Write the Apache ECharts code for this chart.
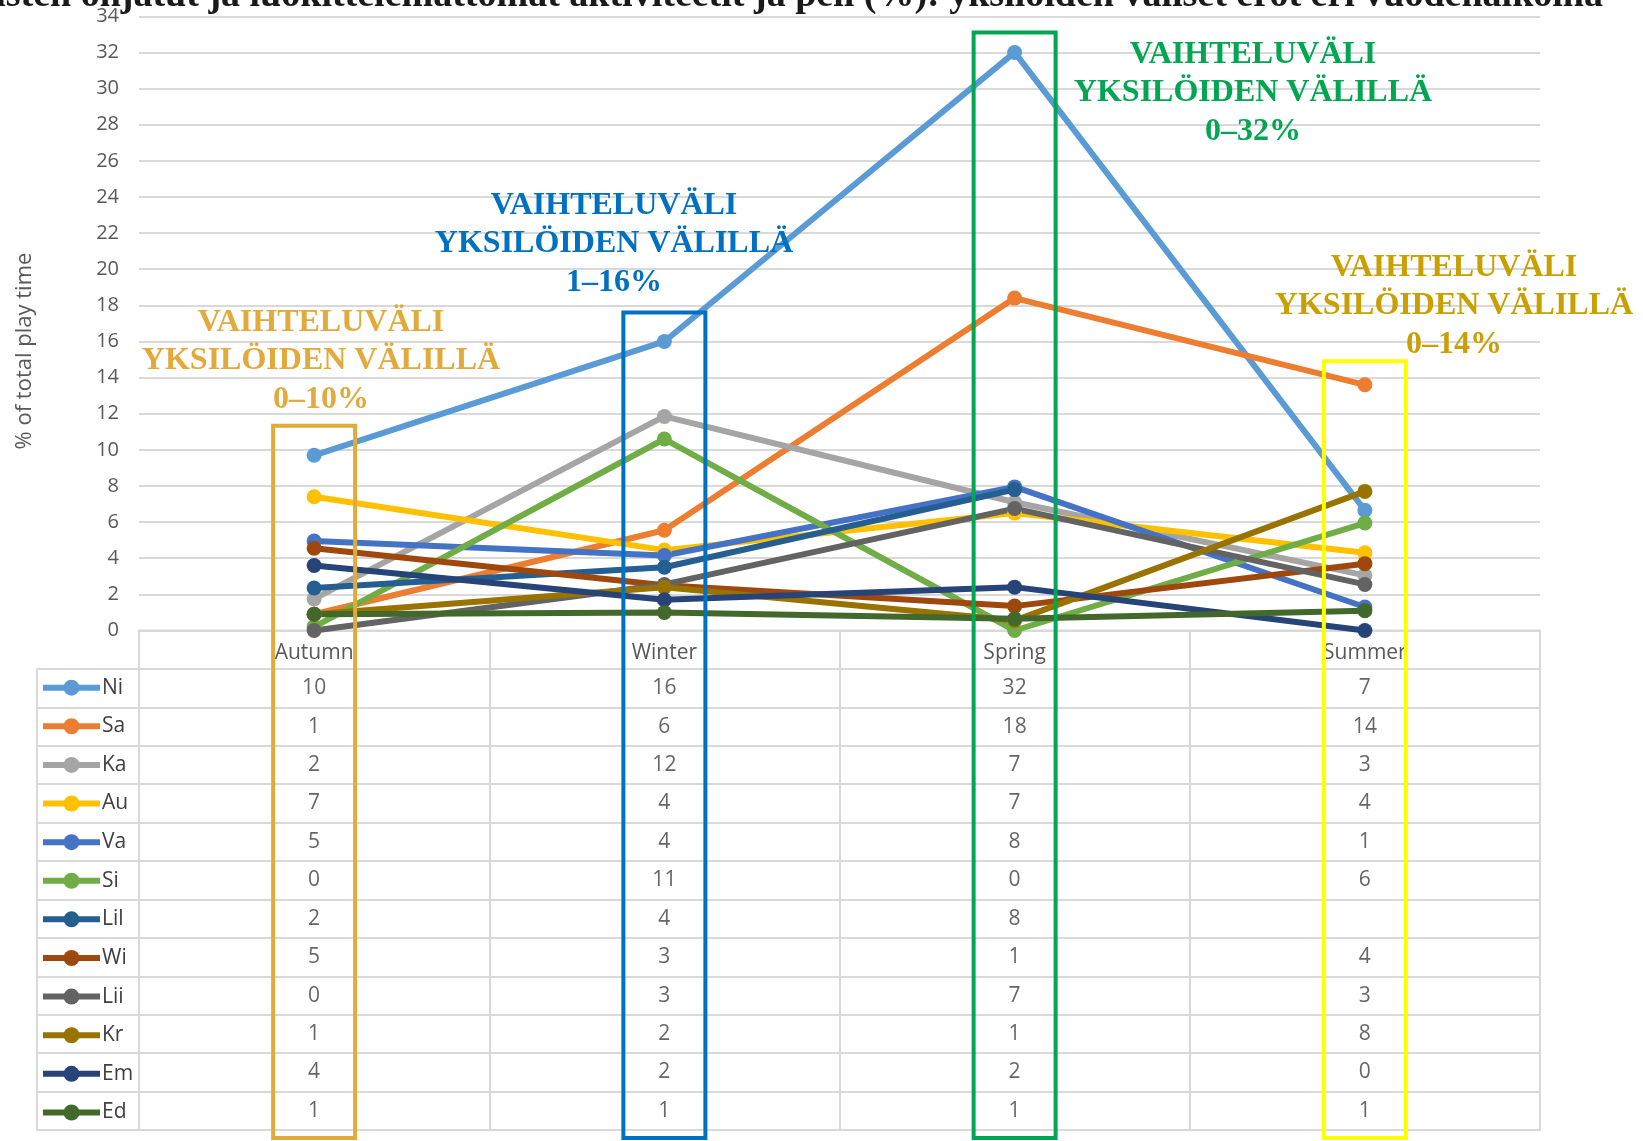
<!DOCTYPE html>
<html><head><meta charset="utf-8">
<script src="https://cdn.jsdelivr.net/npm/echarts@6/dist/echarts.min.js"></script>
<style>html,body{margin:0;padding:0;background:#fff}#c{width:1643px;height:1141px}</style>
</head><body><div id="c"></div>
<script>
// ---- data ----
const seasons = ['Autumn', 'Winter', 'Spring', 'Summer'];
const names = ['Ni', 'Sa', 'Ka', 'Au', 'Va', 'Si', 'Lil', 'Wi', 'Lii', 'Kr', 'Em', 'Ed'];
const colors = ['#5B9BD5', '#ED7D31', '#A5A5A5', '#FFC000', '#4472C4', '#70AD47',
                '#255E91', '#9E480E', '#636363', '#997300', '#264478', '#43682B'];
const Ni  = [9.7, 16.0, 32.0, 6.65];
const Sa  = [0.9, 5.55, 18.4, 13.6];
const Ka  = [1.75, 11.85, 7.1, 3.05];
const Au  = [7.4, 4.45, 6.5, 4.3];
const Va  = [4.95, 4.15, 7.95, 1.3];
const Si  = [0.2, 10.6, 0, 5.95];
const Lil = [2.35, 3.5, 7.8, null];
const Wi  = [4.55, 2.5, 1.35, 3.7];
const Lii = [0, 2.55, 6.75, 2.55];
const Kr  = [0.9, 2.4, 0.55, 7.7];
const Em  = [3.6, 1.7, 2.4, 0];
const Ed  = [0.9, 1.0, 0.65, 1.1];
const seriesValues = [Ni, Sa, Ka, Au, Va, Si, Lil, Wi, Lii, Kr, Em, Ed];
const yMin = 0, yMax = 34, yInterval = 2;
const axisTitle = '% of total play time';
const noteLines = ['VAIHTELUVÄLI', 'YKSILÖIDEN VÄLILLÄ'];
const noteColors = ['#E2A93B', '#0070C0', '#00A651', '#C9A000'];
const boxColors = ['#E2A93B', '#0070C0', '#00A651', '#FFFF00'];
const boxTopValues = [11.33, 17.6, 33.1, 14.9];
const titleText = 'Kuva 3. Lasten ohjatut ja luokittelemattomat aktiviteetit ja peli (%): yksilöiden väliset erot eri vuodenaikoina';

// ---- layout ----
const W = 1643, H = 1141;
const gLeft = 139, gRight = 103, gTop = 16.3, gBottom0 = 630.5;
const tBottom = 1130;
const rowH = (tBottom - gBottom0) / 13;
const font = 'Open Sans';
const gridColor = '#D9D9D9';
const textColor = '#595959';
const legH = 20;

const chart = echarts.init(document.getElementById('c'));

const lineSeries = names.map((n, i) => ({
  name: n, type: 'line', xAxisIndex: 0, yAxisIndex: 0,
  data: seriesValues[i],
  symbol: 'circle', symbolSize: 15,
  lineStyle: { width: 6, color: colors[i] },
  itemStyle: { color: colors[i] },
  connectNulls: false,
  emphasis: { disabled: true },
  z: 2
}));

const tableData = [];
names.forEach((n, i) => {
  seriesValues[i].forEach((v, j) => {
    if (v !== null && v !== undefined) tableData.push([j, i + 1, Math.round(v)]);
  });
});

const rowCats = [''].concat(names);

chart.setOption({
  animation: false,
  backgroundColor: '#fff',
  grid: [
    { left: gLeft, right: gRight, top: gTop, bottom: H - gBottom0 },
    { left: gLeft, right: gRight, top: gBottom0, bottom: H - tBottom, show: true, borderColor: gridColor, borderWidth: 2 },
    { left: 37, width: gLeft - 37, top: gBottom0 + rowH, bottom: H - tBottom, show: true, borderColor: gridColor, borderWidth: 2 }
  ],
  xAxis: [
    { gridIndex: 0, type: 'category', data: seasons, boundaryGap: true,
      axisLine: { show: true, lineStyle: { color: gridColor, width: 2 } },
      axisTick: { show: false },
      axisLabel: { margin: 12, fontFamily: font, fontSize: 21, color: textColor },
      splitLine: { show: false } },
    { gridIndex: 1, type: 'category', data: seasons, boundaryGap: true,
      axisLine: { show: false }, axisTick: { show: false }, axisLabel: { show: false },
      splitLine: { show: true, interval: 0, lineStyle: { color: gridColor, width: 2 } } },
    { gridIndex: 2, type: 'category', data: [''], show: false }
  ],
  yAxis: [
    { gridIndex: 0, type: 'value', min: yMin, max: yMax, interval: yInterval,
      axisLine: { show: false }, axisTick: { show: false },
      axisLabel: { margin: 20, fontFamily: font, fontSize: 20, color: textColor },
      splitLine: { show: true, lineStyle: { color: gridColor, width: 2 } } },
    { gridIndex: 1, type: 'category', data: rowCats, inverse: true,
      axisLine: { show: false }, axisTick: { show: false }, axisLabel: { show: false },
      splitLine: { show: true, interval: 0, lineStyle: { color: gridColor, width: 2 } } },
    { gridIndex: 2, type: 'category', data: names, inverse: true,
      axisLine: { show: false }, axisTick: { show: false }, axisLabel: { show: false },
      splitLine: { show: true, interval: 0, lineStyle: { color: gridColor, width: 2 } } }
  ],
  legend: {
    data: names, orient: 'vertical', left: 40,
    top: gBottom0 + rowH + (rowH - legH) / 2 - 1, height: 480,
    padding: 0, itemWidth: 57, itemHeight: legH, itemGap: rowH - legH - 0.8,
    selectedMode: false,
    lineStyle: { width: 6 },
    textStyle: { fontFamily: font, fontSize: 21, color: '#404040', lineHeight: legH, padding: [0, 0, 0, -3] }
  },
  series: lineSeries.concat([{
    type: 'scatter', xAxisIndex: 1, yAxisIndex: 1, data: tableData,
    symbolSize: 0, silent: true,
    label: { show: true, position: 'inside', formatter: p => String(p.value[2]),
             fontFamily: font, fontSize: 21, color: '#404040' }
  }])
});

// ---- annotations: boxes, range notes, axis title ----
function rangeText(j) {
  const vals = seriesValues.map(s => s[j]).filter(v => v !== null).map(v => Math.round(v));
  return Math.min(...vals) + '–' + Math.max(...vals) + '%';
}
const notePos = [[321, 303], [614, 186], [1253, 35], [1454, 248]];
const graphics = [];
seasons.forEach((s, j) => {
  const cx = chart.convertToPixel({ xAxisIndex: 0 }, s);
  const top = chart.convertToPixel({ yAxisIndex: 0 }, boxTopValues[j]);
  graphics.push({
    type: 'rect', z: 100, silent: true,
    shape: { x: cx - 41, y: top, width: 82, height: tBottom + 8 - top },
    style: { fill: 'none', stroke: boxColors[j], lineWidth: 4 }
  });
  graphics.push({
    type: 'text', z: 100, silent: true, x: notePos[j][0], y: notePos[j][1],
    style: { text: noteLines.concat([rangeText(j)]).join('\n'), fill: noteColors[j],
             font: 'bold 32px "Liberation Serif"', align: 'center', verticalAlign: 'top', lineHeight: 38.5 }
  });
});
graphics.push({
  type: 'text', z: 100, silent: true, x: 25, y: 351, rotation: Math.PI / 2,
  style: { text: axisTitle, fill: textColor, font: '22px "Open Sans"', align: 'center', verticalAlign: 'middle' }
});
graphics.push({
  type: 'text', z: 100, silent: true, x: 1603, y: 15,
  style: { text: titleText, fill: '#1a1a1a', font: 'bold 38px "Liberation Serif"', align: 'right', verticalAlign: 'bottom' }
});
chart.setOption({ graphic: graphics });
</script>
</body></html>
